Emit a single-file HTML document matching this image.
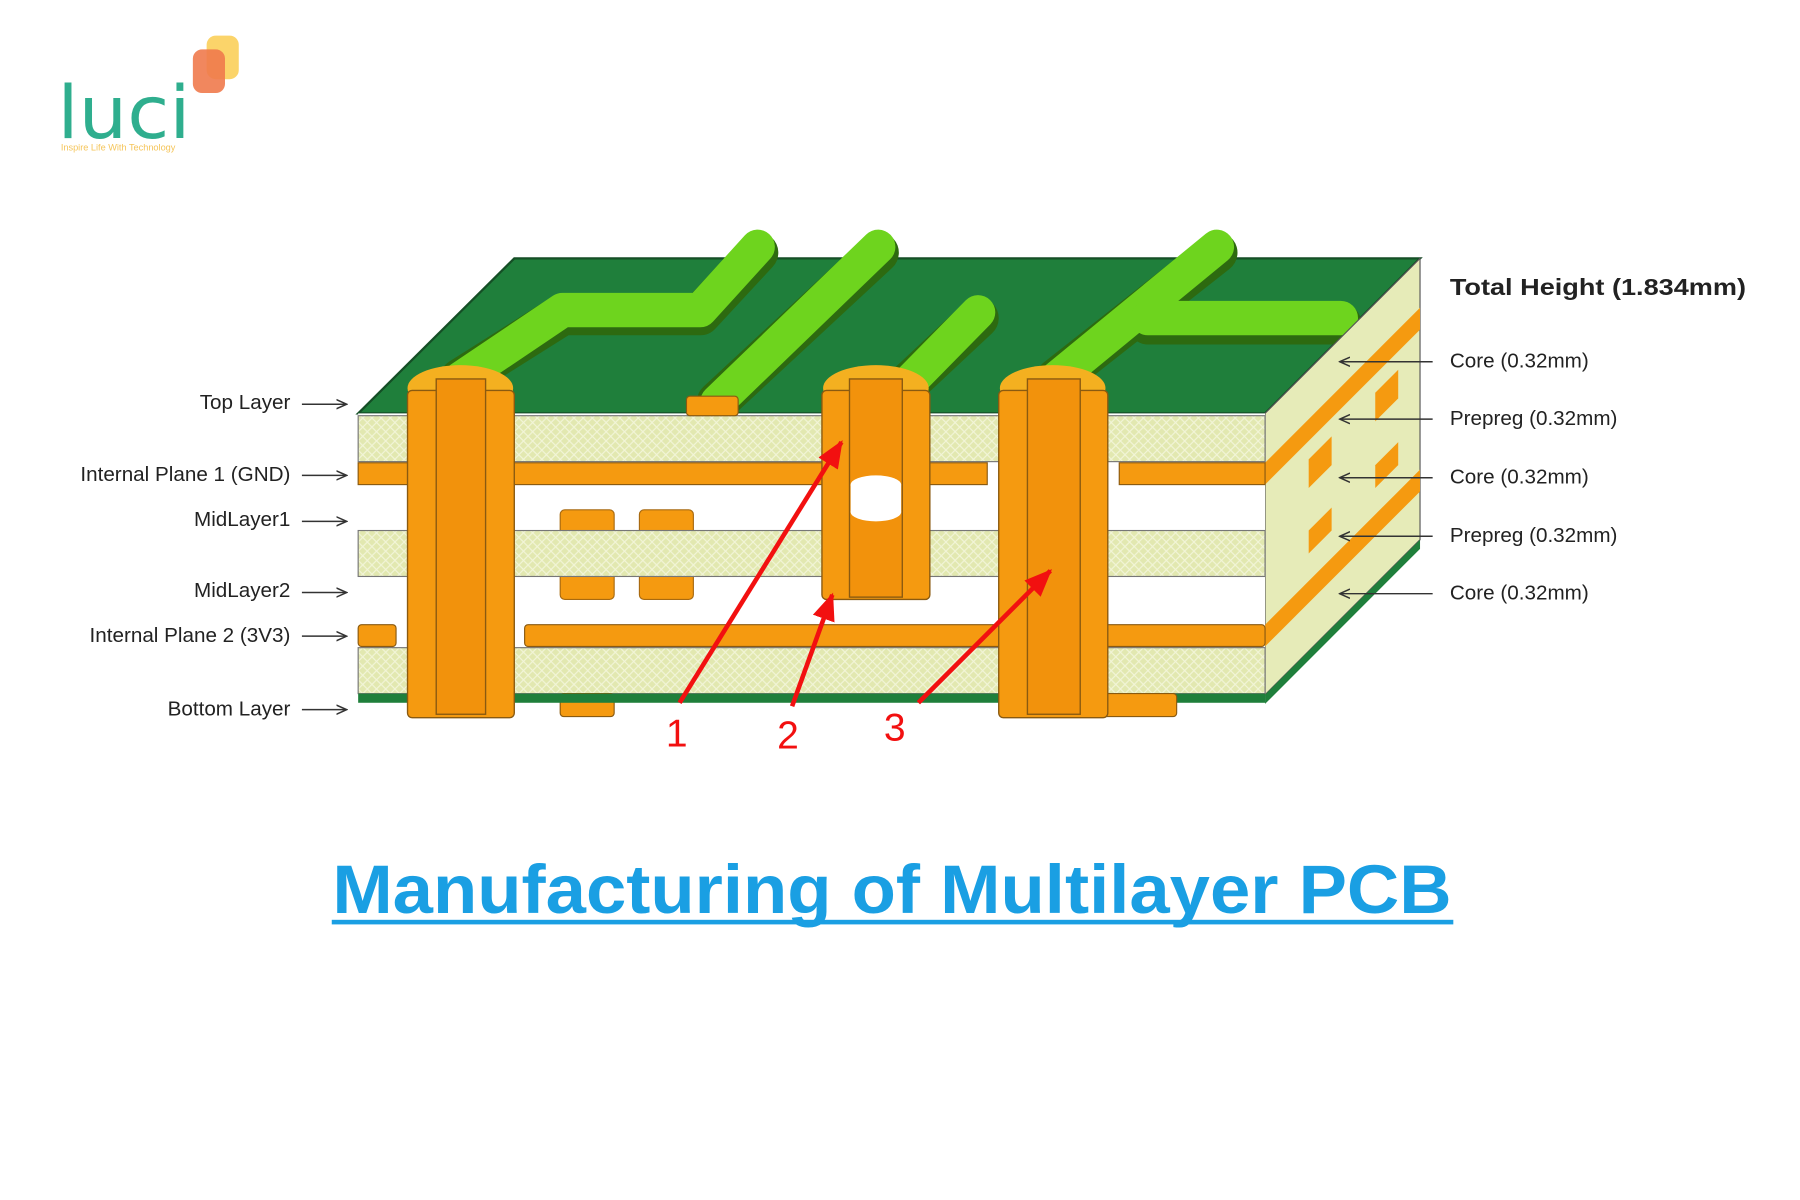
<!DOCTYPE html>
<html><head><meta charset="utf-8"><style>
html,body{margin:0;padding:0;background:#fff;}
svg{display:block;}
</style></head><body>
<svg width="1800" height="1200" viewBox="0 0 1568 1045" preserveAspectRatio="none" xmlns="http://www.w3.org/2000/svg" font-family="Liberation Sans, sans-serif">
<defs>
<pattern id="h" width="8" height="8" patternUnits="userSpaceOnUse">
<rect width="8" height="8" fill="#e2e8b0"/>
<path d="M0 0L8 8M8 0L0 8" stroke="#f2f5d8" stroke-width="1"/>
</pattern>
<marker id="ar" markerWidth="10" markerHeight="10" refX="8" refY="5" orient="auto" markerUnits="userSpaceOnUse"><path d="M0,1 L9,5 L0,9" fill="none" stroke="#333" stroke-width="1.3"/></marker>
<marker id="ra" markerWidth="26" markerHeight="26" refX="22" refY="13" orient="auto" markerUnits="userSpaceOnUse"><path d="M0,3 L24,13 L0,23 Z" fill="#f21010"/></marker>
</defs>

<!-- logo -->
<rect x="180" y="31" width="28" height="38" rx="8" fill="#fbd46a"/>
<rect x="168" y="43" width="28" height="38" rx="8" fill="#f07a4c" opacity="0.9"/>
<text x="50" y="120" font-size="64" fill="#2fae8e" font-family="DejaVu Sans, sans-serif" textLength="116" lengthAdjust="spacingAndGlyphs">luci</text>
<text x="53" y="131" font-size="8" fill="#f5c55a">Inspire Life With Technology</text>

<!-- top face -->
<polygon points="312,360 448,225 1237,225 1102,360" fill="#1f7f3b" stroke="#154f26" stroke-width="2"/>
<!-- traces -->
<g fill="none" stroke-linecap="round" stroke-linejoin="round">
<g stroke="#2d6a10" stroke-width="36">
<polyline points="401,330 490,274 610,274 660,220"/>
<line x1="625" y1="350" x2="765" y2="220"/>
<line x1="790" y1="335" x2="852" y2="277"/>
<polyline points="920,330 1060,220"/>
<line x1="1000" y1="282" x2="1168" y2="282"/>
</g>
<g stroke="#6ed41e" stroke-width="30">
<polyline points="401,330 490,270 610,270 660,215"/>
<line x1="625" y1="350" x2="765" y2="215"/>
<line x1="790" y1="335" x2="852" y2="272"/>
<polyline points="920,330 1060,215"/>
<line x1="1000" y1="277" x2="1168" y2="277"/>
</g>
</g>

<!-- side face -->
<polygon points="1102,360 1237,225 1237,470 1102,605" fill="#e6ebb8" stroke="#555" stroke-width="1"/>
<polygon points="1102,403 1237,268 1237,287 1102,422" fill="#f59a10"/>
<polygon points="1102,544 1237,409 1237,428 1102,563" fill="#f59a10"/>
<polygon points="1140,400 1160,380 1160,405 1140,425" fill="#f59a10"/>
<polygon points="1198,342 1218,322 1218,347 1198,367" fill="#f59a10"/>
<polygon points="1140,462 1160,442 1160,462 1140,482" fill="#f59a10"/>
<polygon points="1198,405 1218,385 1218,405 1198,425" fill="#f59a10"/>
<polygon points="1102,605 1237,470 1237,478 1102,613" fill="#1f7f3b"/>

<!-- front white -->
<rect x="312" y="360" width="790" height="245" fill="#fff"/>
<!-- pads midlayer -->
<rect x="488" y="444" width="47" height="78" rx="4" fill="#f59a10" stroke="#a86a10"/>
<rect x="557" y="444" width="47" height="78" rx="4" fill="#f59a10" stroke="#a86a10"/>
<!-- layers -->
<g stroke="#777" stroke-width="1">
<rect x="312" y="362" width="790" height="40" fill="url(#h)"/>
<rect x="312" y="462" width="790" height="40" fill="url(#h)"/>
<rect x="312" y="564" width="790" height="40" fill="url(#h)"/>
</g>
<g fill="#f59a10" stroke="#8a5a10" stroke-width="1">
<rect x="312" y="403" width="416" height="19"/>
<rect x="795" y="403" width="65" height="19"/>
<rect x="975" y="403" width="127" height="19"/>
<rect x="312" y="544" width="33" height="19" rx="3"/>
<rect x="457" y="544" width="645" height="19" rx="3"/>
<rect x="598" y="345" width="45" height="17" rx="3"/>
<rect x="488" y="604" width="47" height="20" rx="3"/>
</g>
<rect x="312" y="604" width="790" height="8" fill="#1f7f3b"/>
<rect x="960" y="604" width="65" height="20" rx="3" fill="#f59a10" stroke="#8a5a10"/>

<!-- vias -->
<g stroke="#8a5a10" stroke-width="1.2">
<ellipse cx="401" cy="338" rx="46" ry="20" fill="#f4b020" stroke="none"/>
<rect x="355" y="340" width="93" height="285" rx="4" fill="#f59a10"/>
<rect x="380" y="330" width="43" height="292" fill="#f2920c"/>
<ellipse cx="763" cy="338" rx="46" ry="20" fill="#f4b020" stroke="none"/>
<rect x="716" y="340" width="94" height="182" rx="4" fill="#f59a10"/>
<rect x="740" y="330" width="46" height="190" fill="#f2920c"/>
<ellipse cx="917" cy="338" rx="46" ry="20" fill="#f4b020" stroke="none"/>
<rect x="870" y="340" width="95" height="285" rx="4" fill="#f59a10"/>
<rect x="895" y="330" width="46" height="292" fill="#f2920c"/>
</g>
<rect x="741" y="422" width="44" height="24" fill="#fff"/>
<ellipse cx="763" cy="422" rx="22" ry="8" fill="#fff"/>
<ellipse cx="763" cy="446" rx="22" ry="8" fill="#fff"/>

<!-- red arrows -->
<g stroke="#f21010" stroke-width="4" fill="none">
<line x1="592" y1="612" x2="733" y2="385" marker-end="url(#ra)"/>
<line x1="690" y1="615" x2="725" y2="518" marker-end="url(#ra)"/>
<line x1="800" y1="612" x2="915" y2="497" marker-end="url(#ra)"/>
</g>
<g fill="#f21010" font-size="34">
<text x="580" y="650">1</text>
<text x="677" y="652">2</text>
<text x="770" y="645">3</text>
</g>

<!-- left labels -->
<g font-size="18" fill="#222" text-anchor="end">
<text x="253" y="356">Top Layer</text>
<text x="253" y="419">Internal Plane 1 (GND)</text>
<text x="253" y="458">MidLayer1</text>
<text x="253" y="520">MidLayer2</text>
<text x="253" y="559">Internal Plane 2 (3V3)</text>
<text x="253" y="623">Bottom Layer</text>
</g>
<g stroke="#333" stroke-width="1.3" marker-end="url(#ar)">
<line x1="263" y1="352" x2="301" y2="352"/>
<line x1="263" y1="414" x2="301" y2="414"/>
<line x1="263" y1="454" x2="301" y2="454"/>
<line x1="263" y1="516" x2="301" y2="516"/>
<line x1="263" y1="554" x2="301" y2="554"/>
<line x1="263" y1="618" x2="301" y2="618"/>
</g>

<!-- right labels -->
<text x="1263" y="257" font-size="20" font-weight="bold" fill="#222" textLength="258" lengthAdjust="spacingAndGlyphs">Total Height (1.834mm)</text>
<g font-size="18" fill="#222">
<text x="1263" y="320">Core (0.32mm)</text>
<text x="1263" y="370">Prepreg (0.32mm)</text>
<text x="1263" y="421">Core (0.32mm)</text>
<text x="1263" y="472">Prepreg (0.32mm)</text>
<text x="1263" y="522">Core (0.32mm)</text>
</g>
<g stroke="#333" stroke-width="1.3" marker-end="url(#ar)">
<line x1="1248" y1="315" x2="1168" y2="315"/>
<line x1="1248" y1="365" x2="1168" y2="365"/>
<line x1="1248" y1="416" x2="1168" y2="416"/>
<line x1="1248" y1="467" x2="1168" y2="467"/>
<line x1="1248" y1="517" x2="1168" y2="517"/>
</g>

<!-- title -->
<text x="777" y="795" font-size="60" font-weight="bold" fill="#1a9fe3" text-anchor="middle" textLength="975" lengthAdjust="spacingAndGlyphs">Manufacturing of Multilayer PCB</text>
<rect x="289" y="801" width="977" height="4" fill="#1a9fe3"/>
</svg>
</body></html>
